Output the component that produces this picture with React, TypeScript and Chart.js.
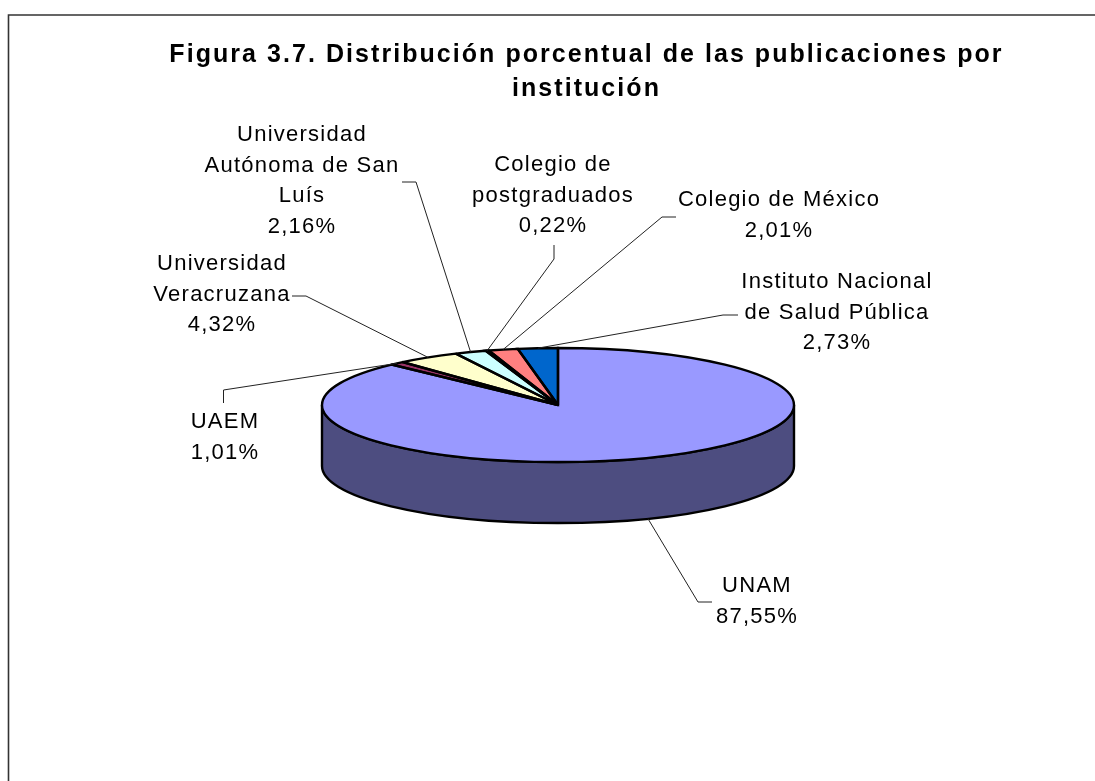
import React, { useEffect, useRef } from "react";
import { Chart, registerables } from "chart.js";

Chart.register(...registerables);

const institutions = [
  ["UNAM"],
  ["UAEM"],
  ["Universidad", "Veracruzana"],
  ["Universidad", "Autónoma de San", "Luís"],
  ["Colegio de", "postgraduados"],
  ["Colegio de México"],
  ["Instituto Nacional", "de Salud Pública"],
];
const shares = [87.55, 1.01, 4.32, 2.16, 0.22, 2.01, 2.73];
const shareLabels = ["87,55%", "1,01%", "4,32%", "2,16%", "0,22%", "2,01%", "2,73%"];
const sliceColors = ["#9999FF", "#993366", "#FFFFCC", "#CCFFFF", "#660066", "#FF8080", "#0066CC"];
const sideColor = "#4D4D80";
const titleLines = ["Figura 3.7. Distribución porcentual de las publicaciones por", "institución"];

// Annotation layout: label centre x, first line centre y, and leader elbow + end.
const labelLayout = [
  { x: 757, y: 586, leader: [[698, 602], [712, 602]] },
  { x: 225, y: 422, leader: [[223.5, 390], [223.5, 403]] },
  { x: 222, y: 264, leader: [[306, 296], [292, 296]] },
  { x: 302, y: 135, leader: [[416, 182], [402, 182]] },
  { x: 553, y: 165, leader: [[554, 259], [554, 245]] },
  { x: 779, y: 200, leader: [[662, 217], [676, 217]] },
  { x: 837, y: 282, leader: [[723, 315], [738, 315]] },
];

const PIE_CX = 558;
const PIE_CY = 405;
const PIE_RX = 236;
const PIE_RY = 57;
const PIE_DEPTH = 61;
const LABEL_FONT = '22px "Liberation Sans", Arial, sans-serif';
const LINE_H = 30.5;

function projector(el: any) {
  return {
    apply(ctx: CanvasRenderingContext2D) {
      ctx.translate(PIE_CX, PIE_CY);
      ctx.scale(PIE_RX / el.outerRadius, PIE_RY / el.outerRadius);
      ctx.translate(-el.x, -el.y);
    },
    point(a: number, lowered = 0) {
      return [PIE_CX + PIE_RX * Math.cos(a), PIE_CY + PIE_RY * Math.sin(a) + lowered];
    },
  };
}

const pie3d = {
  id: "pie3d",
  beforeDraw(chart: any) {
    const { ctx, width, height } = chart;
    ctx.save();
    ctx.fillStyle = "#FFFFFF";
    ctx.fillRect(0, 0, width, height);
    ctx.strokeStyle = "#333333";
    ctx.lineWidth = 1.6;
    ctx.beginPath();
    ctx.moveTo(8.5, height);
    ctx.lineTo(8.5, 15);
    ctx.lineTo(width, 15);
    ctx.stroke();
    ctx.restore();
    ctx.letterSpacing = "2.05px";
  },
  beforeDatasetsDraw(chart: any) {
    const { ctx } = chart;
    ctx.letterSpacing = "0px";
    const arcs = chart.getDatasetMeta(0).data;
    const p = projector(arcs[0]);
    // side wall of the visible lower half of the disc
    ctx.save();
    ctx.beginPath();
    ctx.ellipse(PIE_CX, PIE_CY, PIE_RX, PIE_RY, 0, 0, Math.PI);
    ctx.ellipse(PIE_CX, PIE_CY + PIE_DEPTH, PIE_RX, PIE_RY, 0, Math.PI, 0, true);
    ctx.closePath();
    ctx.fillStyle = sideColor;
    ctx.fill();
    ctx.strokeStyle = "#000000";
    ctx.lineWidth = 2.4;
    ctx.stroke();
    ctx.restore();
    ctx.save();
    p.apply(ctx);
  },
  afterDatasetsDraw(chart: any) {
    const { ctx } = chart;
    ctx.restore();
    const arcs = chart.getDatasetMeta(0).data;
    ctx.save();
    ctx.strokeStyle = "#000000";
    ctx.lineWidth = 2.4;
    ctx.lineJoin = "miter";
    ctx.miterLimit = 3;
    arcs.forEach((el: any) => {
      ctx.beginPath();
      ctx.moveTo(PIE_CX, PIE_CY);
      ctx.ellipse(PIE_CX, PIE_CY, PIE_RX, PIE_RY, 0, el.startAngle, el.endAngle);
      ctx.closePath();
      ctx.stroke();
    });
    ctx.restore();

    // leaders and data labels
    ctx.save();
    ctx.strokeStyle = "#222222";
    ctx.lineWidth = 1;
    ctx.fillStyle = "#000000";
    ctx.font = LABEL_FONT;
    ctx.textAlign = "center";
    ctx.textBaseline = "middle";
    ctx.letterSpacing = "1.25px";
    arcs.forEach((el: any, i: number) => {
      const p = projector(el);
      const mid = (el.startAngle + el.endAngle) / 2;
      const onFront = Math.sin(mid) > 0;
      const [ax, ay] = p.point(mid, onFront ? PIE_DEPTH : 0);
      const layout = labelLayout[i];
      ctx.beginPath();
      ctx.moveTo(ax, ay);
      layout.leader.forEach(([x, y]) => ctx.lineTo(x, y));
      ctx.stroke();
      const lines = [...institutions[i], shareLabels[i]];
      lines.forEach((line, j) => ctx.fillText(line, layout.x, layout.y + j * LINE_H));
    });
    ctx.restore();
  },
};

export default function App() {
  const ref = useRef<HTMLCanvasElement | null>(null);
  useEffect(() => {
    const chart = new Chart(ref.current as HTMLCanvasElement, {
      type: "pie",
      data: {
        labels: institutions.map((l) => l.join(" ")),
        datasets: [
          {
            data: shares,
            backgroundColor: sliceColors,
            borderWidth: 0,
            clip: false,
          } as any,
        ],
      },
      options: {
        animation: false,
        responsive: false,
        layout: { padding: { left: 78, right: 0, top: 0, bottom: 0 } },
        plugins: {
          legend: { display: false },
          tooltip: { enabled: false },
          title: {
            display: true,
            text: titleLines,
            color: "#000000",
            font: { family: '"Liberation Sans", Arial, sans-serif', size: 25, weight: "bold", lineHeight: 1.36 },
            padding: { top: 38, bottom: 10 },
          },
        },
      },
      plugins: [pie3d],
    } as any);
    return () => chart.destroy();
  }, []);
  return (
    <canvas
      ref={ref}
      width={1095}
      height={781}
      style={{ position: "fixed", left: 0, top: 0, width: 1095, height: 781, display: "block" }}
    />
  );
}
